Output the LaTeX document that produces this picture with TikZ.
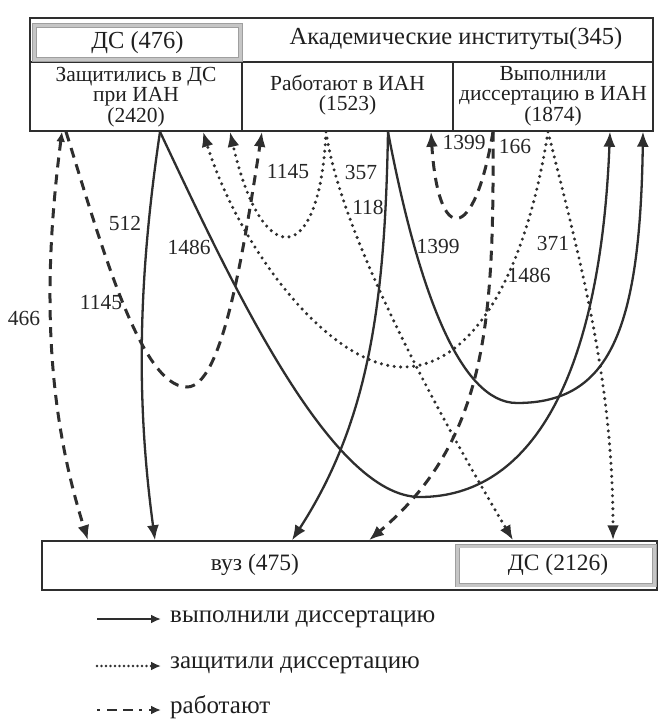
\documentclass[tikz,border=0pt]{standalone}
\usepackage{fontspec}
\setmainfont{Liberation Serif}
\usetikzlibrary{arrows.meta}
\begin{document}
\begin{tikzpicture}[x=1pt,y=-1pt,
  ink/.style={draw=black!82},
  tipbig/.style={-{Latex[length=15pt,width=12pt]}},
  solidln/.style={ink, line width=2.3pt, tipbig},
  dotln/.style={ink, line width=3.4pt, line cap=round, dash pattern=on 0pt off 6.5pt, tipbig},
  dashln/.style={ink, line width=3pt, dash pattern=on 10pt off 7pt, tipbig},
  bothtips/.style={{Latex[length=10pt,width=9pt]}-{Latex[length=15pt,width=12pt]}},
  legtip/.style={-{Latex[length=10pt,width=9pt]}},
  frame/.style={ink, line width=1.5pt, inner sep=0pt},
  graybox/.style={draw=gray!75, line width=0.8pt, double=gray!45, double distance=3pt, inner sep=0pt},
  lbl/.style={font=\fontsize{21.5}{21.5}\selectfont, inner sep=0pt, text=black!85},
  celltxt/.style={font=\fontsize{21.5}{20.5}\selectfont, align=center, text=black!88},
  bigtxt/.style={font=\fontsize{24.5}{25}\selectfont, text=black!88},
  bottxt/.style={font=\fontsize{23.5}{24}\selectfont, text=black!88},
  legtxt/.style={font=\fontsize{25}{26}\selectfont, text=black!88, anchor=west, inner sep=0pt}
]
\useasboundingbox (0,0) rectangle (661,719);

% top block
\node[frame, minimum width=623pt, minimum height=113pt] (inst) at (341.5,74.5) {};
\node[frame, minimum width=212pt, minimum height=69pt] (c1) at (136,96.5) {};
\node[frame, minimum width=211pt, minimum height=69pt] (c2) at (347.5,96.5) {};
\node[frame, minimum width=200pt, minimum height=69pt] (c3) at (553,96.5) {};
\node[graybox, minimum width=206pt, minimum height=34pt] (ds1) at (137.5,42.5) {};
\node[bigtxt] (ds1t) at (ds1.center) {ДС (476)};
\node[bigtxt] (instt) at (456,39) {Академические институты(345)};
\node[celltxt] (c1t) at (136,97) {Защитились в ДС\\при ИАН\\(2420)};
\node[celltxt] (c2t) at (347.5,95) {Работают в ИАН\\(1523)};
\node[celltxt] (c3t) at (553,96) {Выполнили\\диссертацию в ИАН\\(1874)};

% bottom block
\node[frame, minimum width=615pt, minimum height=49pt] (vuz) at (349.5,565.5) {};
\node[graybox, minimum width=197pt, minimum height=39pt] (ds2) at (556,565.5) {};
\node[bottxt] (vuzt) at (255,565) {вуз (475)};
\node[bottxt] (ds2t) at (558,565) {ДС (2126)};

% end points on the boxes
\coordinate (p466) at (62,0 |- c1.south);
\coordinate (pd1145) at (66,0 |- c1.south);
\coordinate (p512) at (160,0 |- c1.south);
\coordinate (pin1) at (203,0 |- c1.south);
\coordinate (pin2) at (230,0 |- c1.south);
\coordinate (pin3) at (262,0 |- c2.south);
\coordinate (pc2dot) at (326,0 |- c2.south);
\coordinate (pc2sol) at (388,0 |- c2.south);
\coordinate (pin4) at (431,0 |- c2.south);
\coordinate (pc3dash) at (493,0 |- c3.south);
\coordinate (pc3dot) at (548,0 |- c3.south);
\coordinate (pin5) at (610,0 |- c3.south);
\coordinate (pin6) at (643,0 |- c3.south);
\coordinate (b466) at (88,0 |- vuz.north);
\coordinate (b512) at (155,0 |- vuz.north);
\coordinate (b118) at (292,0 |- vuz.north);
\coordinate (b166) at (369,0 |- vuz.north);
\coordinate (b357) at (513,0 |- vuz.north);
\coordinate (b371) at (613,0 |- vuz.north);

% dashed
\draw[dashln, bothtips] (p466) .. controls (40,300) and (50,420) .. (b466);
\draw[dashln] (pd1145) .. controls (100,240) and (140,387) .. (187,387)
  .. controls (222,387) and (243,255) .. (pin3);
\draw[dashln] (pc3dash) .. controls (474,245) and (438,245) .. (pin4);
\draw[dashln] (pc3dash) .. controls (494,320) and (488,440) .. (b166);

% solid
\draw[solidln] (p512) .. controls (138,280) and (136,400) .. (b512);
\draw[solidln] (p512) .. controls (230,280) and (330,497) .. (420,497)
  .. controls (530,497) and (600,380) .. (pin5);
\draw[solidln] (pc2sol) .. controls (385,300) and (370,420) .. (b118);
\draw[solidln] (pc2sol) .. controls (418,290) and (460,403) .. (517,403)
  .. controls (610,403) and (640,330) .. (pin6);

% dotted
\draw[dotln] (pc2dot) .. controls (320,268) and (262,272) .. (pin2);
\draw[dotln] (pc2dot) .. controls (340,230) and (430,400) .. (b357);
\draw[dotln] (pc3dot) .. controls (525,280) and (470,367) .. (403,367)
  .. controls (330,367) and (240,250) .. (pin1);
\draw[dotln] (pc3dot) .. controls (580,260) and (613,380) .. (b371);

% labels
\node[lbl] (l466) at (24,318) {466};
\node[lbl] (l512) at (125,223) {512};
\node[lbl] (l1145a) at (101,303) {1145};
\node[lbl] (l1486a) at (189,247) {1486};
\node[lbl] (l1145b) at (288,172) {1145};
\node[lbl] (l357) at (361,172) {357};
\node[lbl] (l118) at (368,207) {118};
\node[lbl] (l1399a) at (464,142) {1399};
\node[lbl] (l166) at (515,146) {166};
\node[lbl] (l1399b) at (438,246) {1399};
\node[lbl] (l371) at (553,243) {371};
\node[lbl] (l1486b) at (529,275) {1486};

% legend
\coordinate (la1) at (97,619);  \coordinate (la2) at (161,619);
\coordinate (lb1) at (97,666);  \coordinate (lb2) at (161,666);
\coordinate (lc1) at (97,710);  \coordinate (lc2) at (161,710);
\draw[ink, line width=2.6pt, legtip] (la1) -- (la2);
\draw[ink, line width=2.6pt, line cap=round, dash pattern=on 0pt off 4.5pt, legtip] (lb1) -- (lb2);
\draw[ink, line width=2.6pt, dash pattern=on 3pt off 7pt on 10pt off 6pt on 10pt off 6pt, legtip] (lc1) -- (lc2);
\node[legtxt] (lt1) at (170,619) {выполнили диссертацию};
\node[legtxt] (lt2) at (170,665) {защитили диссертацию};
\node[legtxt] (lt3) at (170,707) {работают};
\end{tikzpicture}
\end{document}
